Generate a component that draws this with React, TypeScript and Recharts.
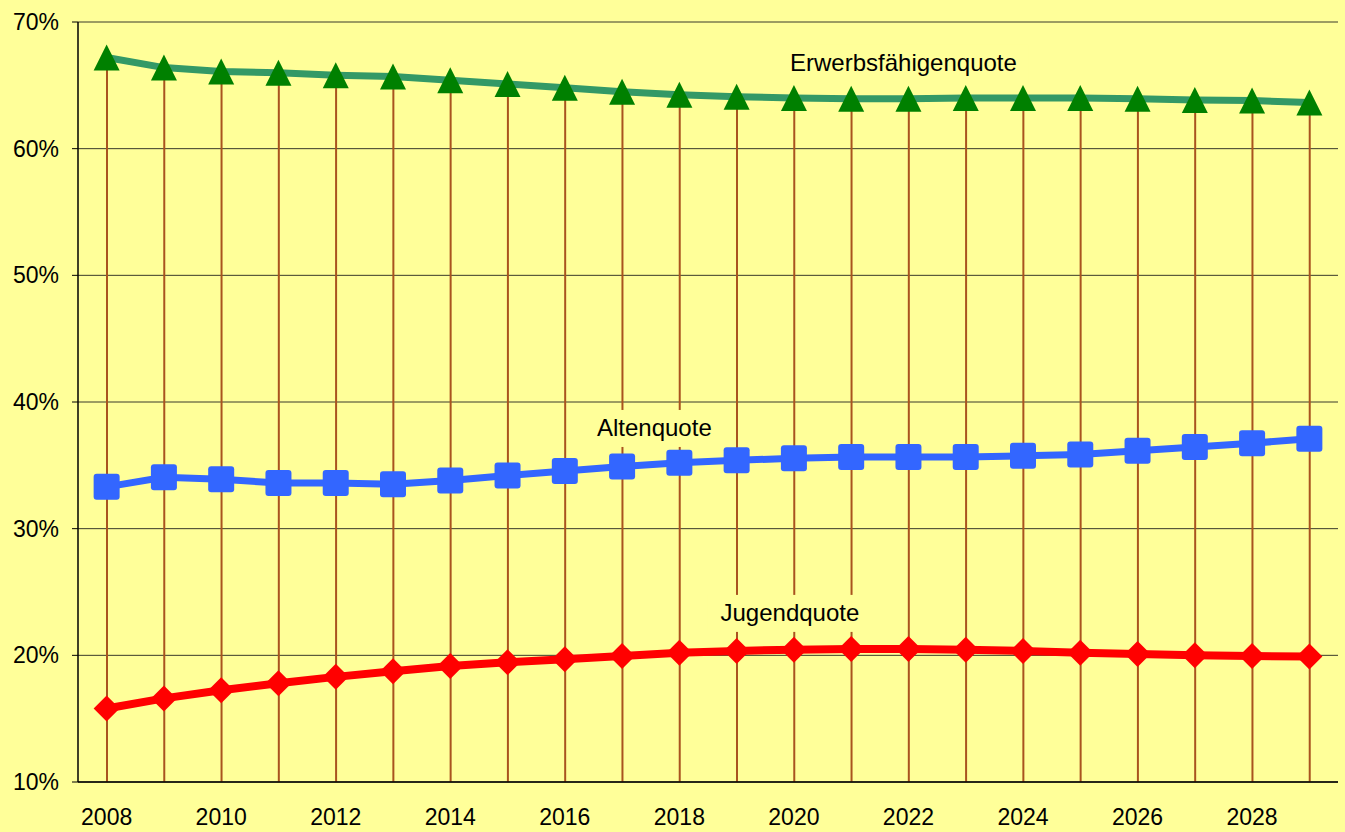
import { ComposedChart, Bar, Line, XAxis, YAxis, CartesianGrid, ReferenceDot } from "recharts";

const YEARS = [
  "2008", "2009", "2010", "2011", "2012", "2013", "2014", "2015", "2016", "2017", "2018",
  "2019", "2020", "2021", "2022", "2023", "2024", "2025", "2026", "2027", "2028", "2029",
];

const ERWERB = [
  67.2, 66.4, 66.1, 66.0, 65.8, 65.7, 65.4, 65.1, 64.8, 64.5, 64.25,
  64.1, 64.0, 63.95, 63.95, 64.0, 64.0, 64.0, 63.95, 63.85, 63.8, 63.65,
];

const ALTEN = [
  33.3, 34.05, 33.9, 33.6, 33.6, 33.5, 33.8, 34.2, 34.55, 34.9, 35.2,
  35.4, 35.55, 35.65, 35.65, 35.65, 35.75, 35.85, 36.15, 36.45, 36.75, 37.1,
];

const JUGEND = [
  15.8, 16.6, 17.25, 17.8, 18.3, 18.75, 19.15, 19.45, 19.7, 19.95, 20.2,
  20.35, 20.45, 20.5, 20.5, 20.45, 20.35, 20.2, 20.1, 20.0, 19.95, 19.9,
];

const Y_TICKS = [10, 20, 30, 40, 50, 60, 70];

const data = YEARS.map((year, i) => ({
  year,
  erwerb: ERWERB[i],
  alten: ALTEN[i],
  jugend: JUGEND[i],
}));

const FONT = "'Liberation Sans', Arial, sans-serif";
const BG = "#FFFF99";

const Triangle = (props: any) => {
  const { cx, cy } = props;
  if (cx == null || cy == null) return null;
  return (
    <polygon
      points={`${cx},${cy - 13} ${cx + 13},${cy + 13} ${cx - 13},${cy + 13}`}
      fill="#008000"
    />
  );
};

const Square = (props: any) => {
  const { cx, cy } = props;
  if (cx == null || cy == null) return null;
  return <rect x={cx - 13} y={cy - 13} width={26} height={26} rx={3} fill="#3366FF" />;
};

const Diamond = (props: any) => {
  const { cx, cy } = props;
  if (cx == null || cy == null) return null;
  return (
    <polygon
      points={`${cx},${cy - 13} ${cx + 13},${cy} ${cx},${cy + 13} ${cx - 13},${cy}`}
      fill="#FF0000"
    />
  );
};

// series name with a yellow box behind it, covering the drop lines
const boxLabel = (text: string, dx: number, boxW: number) => (props: any) => {
  const { cx, cy } = props;
  if (cx == null || cy == null) return null;
  const x = cx + dx;
  return (
    <g>
      <rect x={x - boxW / 2} y={cy - 18} width={boxW} height={37} fill={BG} />
      <text
        x={x}
        y={cy}
        textAnchor="middle"
        dominantBaseline="central"
        fontSize={24}
        fontFamily={FONT}
        fill="#000"
      >
        {text}
      </text>
    </g>
  );
};

export default function App() {
  return (
    <div
      style={{
        position: "fixed",
        left: 0,
        top: 0,
        width: 1345,
        height: 832,
        background: BG,
      }}
    >
      <ComposedChart
        width={1345}
        height={832}
        data={data}
        margin={{ top: 22, right: 7, bottom: 0, left: 0 }}
      >
        <CartesianGrid vertical={false} stroke="#3a3a2a" strokeWidth={1} />
        <XAxis
          dataKey="year"
          interval={1}
          tickLine={false}
          tickSize={0}
          tickMargin={27}
          height={50}
          axisLine={{ stroke: "#000", strokeWidth: 1.5 }}
          tick={{ fontSize: 23, fontFamily: FONT, fill: "#000" }}
        />
        <YAxis
          width={78}
          domain={[10, 70]}
          ticks={Y_TICKS}
          tickFormatter={(v: number) => `${v}%`}
          tickSize={6}
          tickMargin={13}
          axisLine={{ stroke: "#000", strokeWidth: 1.5 }}
          tickLine={{ stroke: "#000" }}
          tick={{ fontSize: 23, fontFamily: FONT, fill: "#000" }}
        />
        <Bar dataKey="erwerb" barSize={2} fill="#A9531F" isAnimationActive={false} />
        <ReferenceDot x="2022" y={66.8} r={0} shape={boxLabel("Erwerbsfähigenquote", -5, 250)} />
        <ReferenceDot x="2018" y={37.95} r={0} shape={boxLabel("Altenquote", -25, 150)} />
        <ReferenceDot x="2020" y={23.35} r={0} shape={boxLabel("Jugendquote", -4, 165)} />
        <Line
          dataKey="erwerb"
          stroke="#339966"
          strokeWidth={7}
          dot={<Triangle />}
          activeDot={false}
          isAnimationActive={false}
        />
        <Line
          dataKey="alten"
          stroke="#3366FF"
          strokeWidth={7}
          dot={<Square />}
          activeDot={false}
          isAnimationActive={false}
        />
        <Line
          dataKey="jugend"
          stroke="#FF0000"
          strokeWidth={8}
          dot={<Diamond />}
          activeDot={false}
          isAnimationActive={false}
        />
      </ComposedChart>
    </div>
  );
}
